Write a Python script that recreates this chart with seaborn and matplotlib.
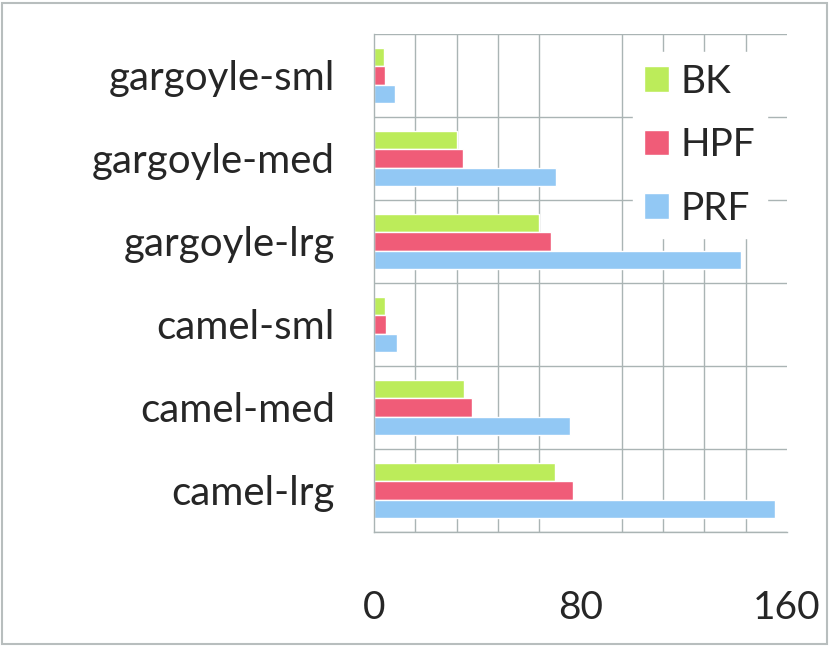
import pandas as pd
import seaborn as sns
import matplotlib.pyplot as plt
from matplotlib.patches import Rectangle
from matplotlib.ticker import MultipleLocator, FixedLocator

categories = ["gargoyle-sml", "gargoyle-med", "gargoyle-lrg",
              "camel-sml", "camel-med", "camel-lrg"]
bk = [4, 32, 64, 4.3, 35, 70]
hpf = [4.3, 34.5, 68.6, 4.7, 38, 77]
prf = [8, 70.7, 142, 8.8, 76, 155.5]
series = ["BK", "HPF", "PRF"]
colors = ["#bcec5a", "#f05c78", "#92c8f4"]

df = pd.DataFrame({
    "category": categories * 3,
    "value": bk + hpf + prf,
    "series": [s for s in series for _ in categories],
})

sns.set_style("white")
plt.rcParams["font.family"] = ["Lato", "DejaVu Sans"]

fig = plt.figure(figsize=(8.3, 6.46), dpi=100)
ax = fig.add_axes([0.4506, 0.1765, 0.4976, 0.7709])

sns.barplot(
    data=df,
    y="category",
    x="value",
    hue="series",
    hue_order=series,
    order=categories,
    palette=colors,
    orient="h",
    width=0.66,
    gap=0,
    saturation=1,
    ax=ax,
)

grid_col = "#aab4b4"
ax.set_xlim(0, 160)
ax.set_ylim(5.5, -0.5)
ax.xaxis.set_major_locator(FixedLocator([0, 80, 160]))
ax.xaxis.set_minor_locator(MultipleLocator(16))
ax.yaxis.set_minor_locator(FixedLocator([i - 0.5 for i in range(7)]))
ax.grid(True, which="minor", color=grid_col, linewidth=1)
ax.set_axisbelow(True)

ax.tick_params(axis="x", which="major", direction="out", length=13,
               width=1, color=grid_col, labelsize=28, pad=29)
ax.tick_params(axis="x", which="minor", length=0)
ax.tick_params(axis="y", which="major", length=0, labelsize=29, pad=28)
ax.tick_params(axis="y", which="minor", direction="out", length=14,
               width=1, color=grid_col)

for name, sp in ax.spines.items():
    sp.set_visible(name in ("left", "bottom"))
    sp.set_color(grid_col)
    sp.set_linewidth(1)

ax.set_xlabel("")
ax.set_ylabel("")

leg = ax.legend(
    loc="upper right",
    bbox_to_anchor=(0.952, 0.964),
    borderaxespad=0,
    fontsize=28,
    frameon=True,
    fancybox=False,
    edgecolor="white",
    framealpha=1,
    handlelength=0.64,
    handleheight=0.64,
    handletextpad=0.3,
    labelspacing=0.71,
    borderpad=0.3,
)

fig.patches.append(Rectangle((0.003, 0.003), 0.993, 0.993, transform=fig.transFigure,
                             fill=False, edgecolor="#b8bebe", linewidth=1.5))

fig.savefig("out.png", dpi=100)
